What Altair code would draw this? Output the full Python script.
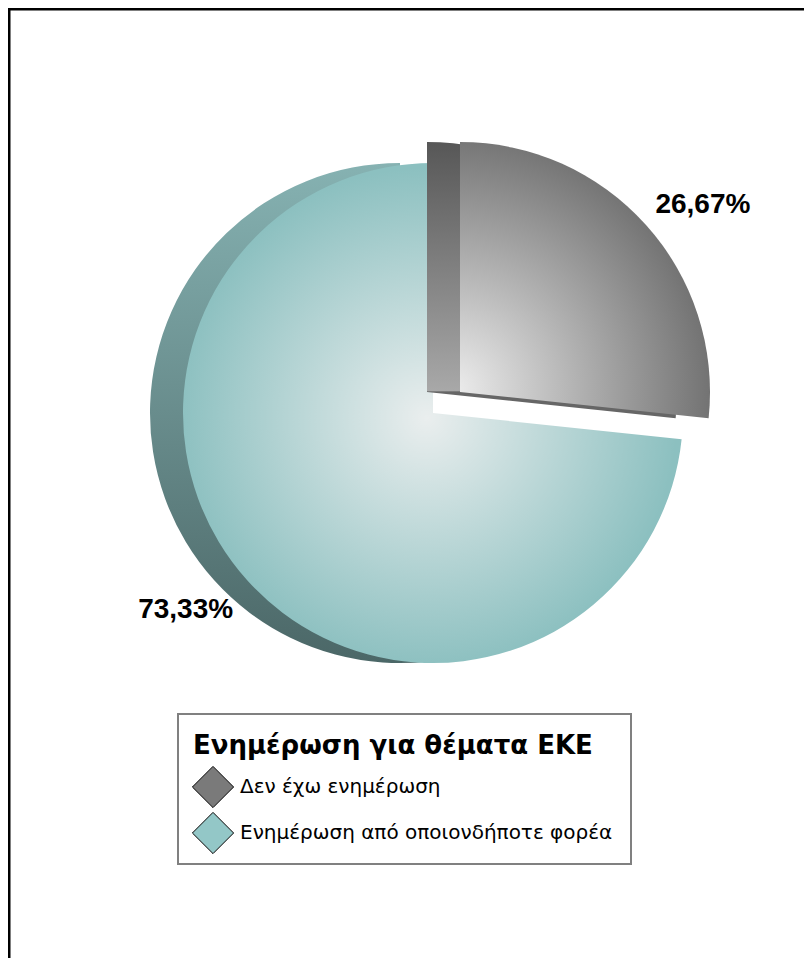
import math
import altair as alt
import pandas as pd

# ---- data ----
categories = ["Δεν έχω ενημέρωση", "Ενημέρωση από οποιονδήποτε φορέα"]
values = [26.67, 73.33]
labels = ["26,67%", "73,33%"]
slice_order = [0, 1]
legend_title = ["Ενημέρωση για θέματα ΕΚΕ"]
legend_colors = ["#7a7a7a", "#93c7c7"]

df = pd.DataFrame({"category": categories, "value": values,
                   "label": labels, "order": slice_order})

FONT = "Liberation Sans"
LFONT = "DejaVu Sans"
R = 250
TEAL_C = (425, 405)
GREY_C = (452, 384)
SIDE = 33

base = (alt.Chart(df)
        .transform_window(v1="sum(value)", sort=[alt.SortField("order")], frame=[None, 0])
        .transform_calculate(v0="datum.v1 - datum.value",
                             mid="datum.v1 - datum.value / 2"))

theta_scale = alt.Scale(domain=[0, 100], range=[0, 2 * math.pi])


def lin(stops):
    return alt.LinearGradient(gradient="linear", x1=0, y1=0, x2=0, y2=1,
                              stops=[alt.GradientStop(color=c, offset=o) for o, c in stops])


def rad(cx, cy, r, c0, c1):
    return alt.RadialGradient(gradient="radial", x1=cx, y1=cy, r1=0,
                              x2=cx, y2=cy, r2=r,
                              stops=[alt.GradientStop(color=c0, offset=0),
                                     alt.GradientStop(color=c1, offset=1)])


def slice_layer(cat, cx, cy, fill):
    return (base.transform_filter(alt.datum.category == cat)
            .mark_arc(radius=R, x=cx, y=cy, fill=fill, strokeWidth=0)
            .encode(theta=alt.Theta("v0:Q", scale=theta_scale),
                    theta2="v1:Q"))


def label_layer(cat, cx, cy, r, dx, dy):
    return (base.transform_filter(alt.datum.category == cat)
            .mark_text(radius=r, x=cx, y=cy, dx=dx, dy=dy, font=FONT, fontSize=28,
                       fontWeight="bold", color="black",
                       align="center", baseline="middle")
            .encode(theta=alt.Theta("mid:Q", scale=theta_scale),
                    text="label:N"))


teal_side = slice_layer(categories[1], TEAL_C[0] - SIDE, TEAL_C[1],
                        lin([(0, "#86b2b2"), (1, "#4b6767")]))
teal_face = slice_layer(categories[1], TEAL_C[0], TEAL_C[1],
                        rad(0.49, 0.51, 0.5, "#eaeeee", "#8cc0c0"))
grey_side = slice_layer(categories[0], GREY_C[0] - SIDE, GREY_C[1],
                        lin([(0, "#575757"), (0.9, "#a8a8a8"),
                             (0.905, "#666666"), (1, "#666666")]))
grey_face = slice_layer(categories[0], GREY_C[0], GREY_C[1],
                        rad(0.02, 0.9, 1.0, "#ededed", "#6a6a6a"))

grey_label = label_layer(categories[0], GREY_C[0], GREY_C[1], 308, 14, 19)
teal_label = label_layer(categories[1], TEAL_C[0], TEAL_C[1], 318, -11, -16)

# ---- legend ----
tdf = pd.DataFrame({"t": legend_title})
legend_box = alt.Chart(tdf).mark_rect(fill="white", stroke="#808080", strokeWidth=2).encode(
    x=alt.value(170), x2=alt.value(623), y=alt.value(706), y2=alt.value(856))
legend_head = alt.Chart(tdf).mark_text(
    align="left", baseline="alphabetic", font=LFONT, fontSize=26,
    fontWeight="bold", color="black").encode(
    text="t:N", x=alt.value(185), y=alt.value(746))

ypos = alt.Y("category:N", axis=None,
             scale=alt.Scale(type="point", domain=categories, range=[779, 825], padding=0))
legend_sym = alt.Chart(df).mark_point(
    shape="diamond", filled=True, size=1700, stroke="black",
    strokeWidth=1, opacity=1).encode(
    x=alt.value(205), y=ypos,
    fill=alt.Fill("category:N", legend=None,
                  scale=alt.Scale(domain=categories, range=legend_colors)))
legend_lab = alt.Chart(df).mark_text(
    align="left", baseline="middle", font=LFONT, fontSize=20,
    color="black").encode(x=alt.value(232), y=ypos, text="category:N")

# ---- frame ----
frame_top = alt.Chart(tdf).mark_rule(color="black", strokeWidth=3).encode(
    x=alt.value(0), x2=alt.value(796), y=alt.value(1))
frame_left = alt.Chart(tdf).mark_rule(color="black", strokeWidth=3).encode(
    x=alt.value(1), y=alt.value(0), y2=alt.value(950))

chart = alt.layer(
    teal_side, teal_face, grey_side, grey_face, grey_label, teal_label,
    legend_box, legend_head, legend_sym, legend_lab, frame_top, frame_left
).properties(
    width=796, height=950, padding=0,
    autosize=alt.AutoSizeParams(type="none"),
    background="white"
).configure_view(stroke=None)

chart.save("out.html", embed_options={"renderer": "svg", "actions": False})
